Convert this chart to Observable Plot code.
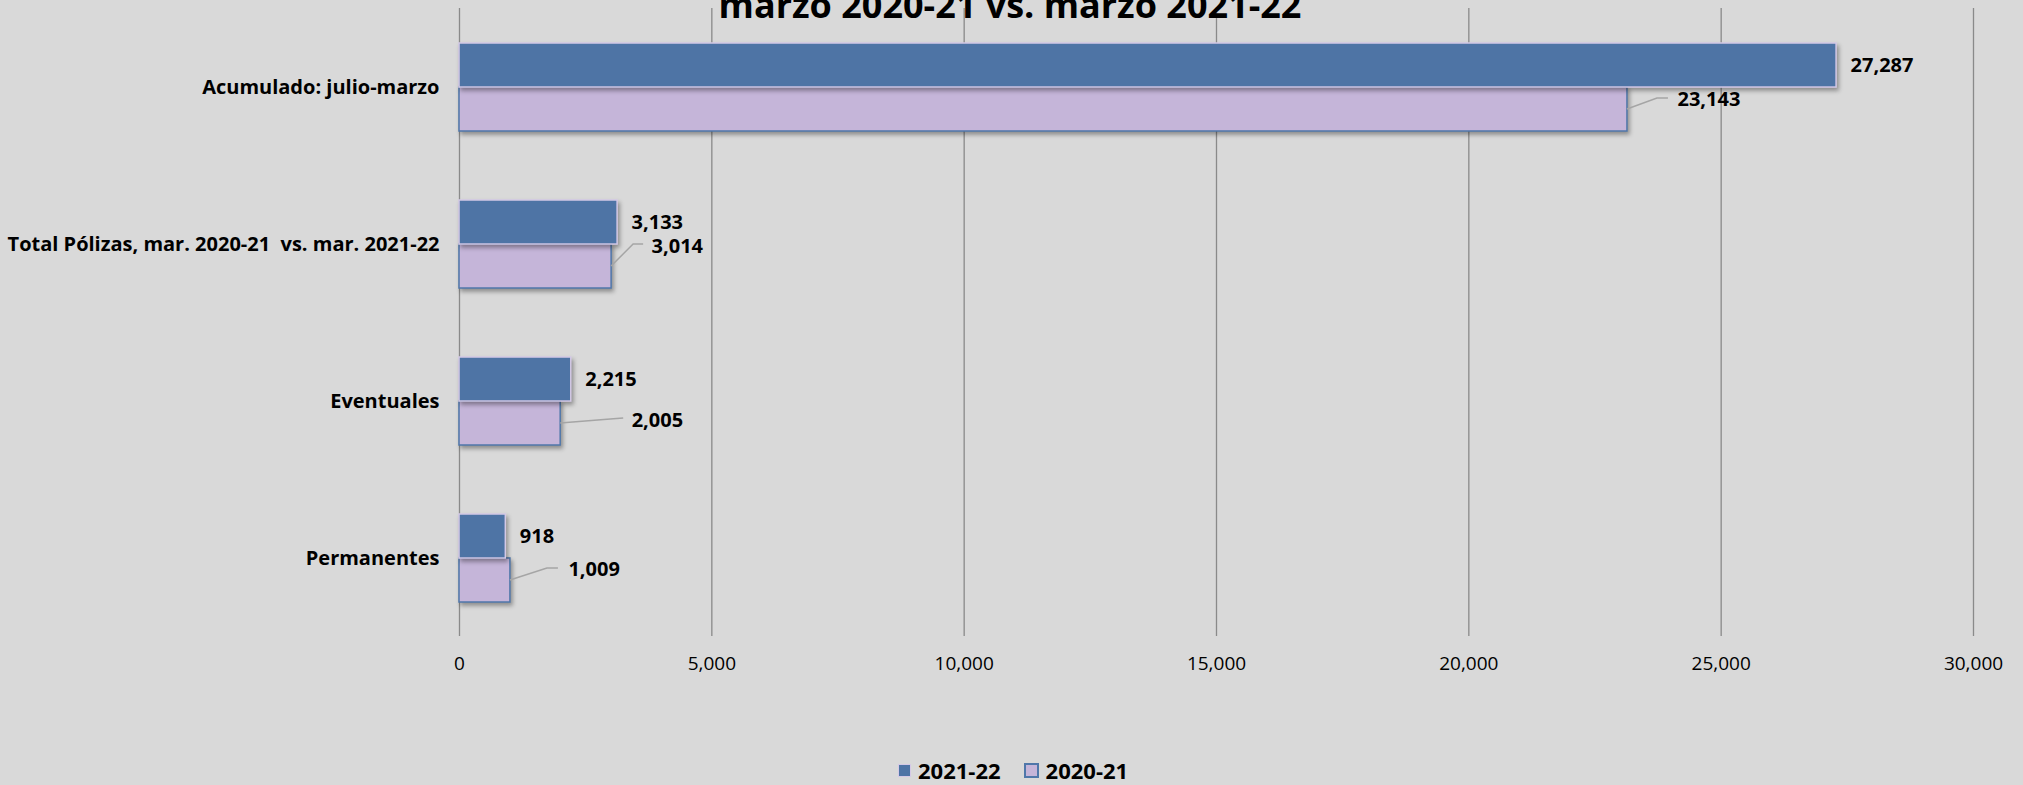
<!DOCTYPE html>
<html>
<head>
<meta charset="utf-8">
<script src="https://cdn.jsdelivr.net/npm/d3@7"></script>
<script src="https://cdn.jsdelivr.net/npm/@observablehq/plot@0.6"></script>
<style>
  html, body { margin: 0; padding: 0; background: #d9d9d9; width: 2023px; height: 785px; overflow: hidden; font-family: "Open Sans", sans-serif; }
  #wrap { position: relative; width: 2023px; height: 785px; }
  #chart { position: absolute; left: 0; top: 0; }
  #title { position: absolute; left: 0; top: -13px; width: 2020px; text-align: center; font-size: 36px; line-height: 36px; font-weight: 700; color: #000; white-space: pre; }
  #legend { position: absolute; left: 898px; top: 755px; height: 30px; display: flex; align-items: center; font-size: 22px; font-weight: 700; color: #000; }
  #legend .item { display: flex; align-items: center; }
  #legend .sw { width: 13px; height: 13px; box-sizing: border-box; margin-right: 7px; }
  #legend .item + .item { margin-left: 23px; }
  svg text { white-space: pre; }
</style>
</head>
<body>
<div id="wrap">
  <div id="chart"></div>
  <div id="title"></div>
  <div id="legend"></div>
</div>
<script>
// ---- data ----
const title = "marzo 2020-21 vs. marzo 2021-22";
const categories = ["Acumulado: julio-marzo", "Total Pólizas, mar. 2020-21  vs. mar. 2021-22", "Eventuales", "Permanentes"];
const series = ["2021-22", "2020-21"];
const values2122 = [27287, 3133, 2215, 918];
const values2021 = [23143, 3014, 2005, 1009];
const xTicks = [0, 5000, 10000, 15000, 20000, 25000, 30000];

// ---- styles / layout ----
const W = 2023, H = 785;
const mTop = 8, mBottom = 149, mLeft = 459, mRight = 50;
const padInner = 0.44, padOuter = 0.22;
const colorNew = "#4e74a5", strokeNew = "#d4c9e6";
const colorOld = "#c5b5d9", strokeOld = "#4f77aa";
const gridColor = "#8a8a8a", leaderColor = "#a5a5a5";
const step = (H - mTop - mBottom) / categories.length;
const bw = step * (1 - padInner);
// label offsets (px) for 2020-21 labels relative to bar end / bar centre
const leaderLayout = [
  {elbow: [30, -11], end: [41, -11], text: [50, -10]},
  {elbow: [22, -22], end: [32, -22], text: [40, -20]},
  {elbow: [50, -4], end: [63, -5], text: [71, -3]},
  {elbow: [37, -12], end: [48, -12], text: [58, -11]}
];

const fmt = d3.format(",");
const rows = categories.map((c, i) => ({cat: c, v22: values2122[i], v21: values2021[i]}));

const oldLabelMarks = rows.map((r, i) => Plot.text([r], {
  x: "v21", y: "cat", text: d => fmt(d.v21),
  dx: leaderLayout[i].text[0], dy: bw / 4 + leaderLayout[i].text[1],
  textAnchor: "start", fontSize: 20, fontWeight: 700, fill: "#000"
}));

const chart = Plot.plot({
  width: W, height: H,
  marginTop: mTop, marginBottom: mBottom, marginLeft: mLeft, marginRight: mRight,
  style: {background: "transparent", fontFamily: "Open Sans, sans-serif", overflow: "visible"},
  x: {domain: [0, 30000], axis: null},
  y: {domain: categories, paddingInner: padInner, paddingOuter: padOuter, axis: null},
  marks: [
    Plot.ruleX(xTicks, {x: d => d, stroke: gridColor, strokeWidth: 1.3}),
    Plot.barX(rows, {x: "v21", y: "cat", insetTop: bw / 2, fill: colorOld, stroke: strokeOld, strokeWidth: 1.5}),
    Plot.barX(rows, {x: "v22", y: "cat", insetBottom: bw / 2, fill: colorNew, stroke: strokeNew, strokeWidth: 1.5}),
    Plot.text(rows, {x: "v22", y: "cat", text: d => fmt(d.v22), dx: 14, dy: -bw / 4, textAnchor: "start", fontSize: 20, fontWeight: 700, fill: "#000"}),
    ...oldLabelMarks,
    Plot.text(xTicks, {x: d => d, text: d => fmt(d), frameAnchor: "bottom", dy: 33, fontSize: 19, fill: "#000"}),
    Plot.text(categories, {y: d => d, text: d => d, frameAnchor: "left", dx: -20, textAnchor: "end", fontSize: 20, fontWeight: 700, fill: "#000"})
  ]
});
document.getElementById("chart").appendChild(chart);

// drop shadows on bars
d3.select(chart).selectAll('g[aria-label="bar"]').style("filter", "drop-shadow(2px 3px 2px rgba(0,0,0,0.35))");

// leader lines for 2020-21 labels, placed through the plot's own scales
const sx = chart.scale("x"), sy = chart.scale("y");
const band = sy.bandwidth ?? bw;
const leaders = d3.select(chart).append("g").attr("fill", "none").attr("stroke", leaderColor).attr("stroke-width", 1.5);
rows.forEach((r, i) => {
  const x0 = sx.apply(r.v21), y0 = sy.apply(r.cat) + band * 0.75;
  const L = leaderLayout[i];
  leaders.append("polyline").attr("points", [
    [x0, y0], [x0 + L.elbow[0], y0 + L.elbow[1]], [x0 + L.end[0], y0 + L.end[1]]
  ].map(p => p.join(",")).join(" "));
});

// title (upper line clipped by the page edge, as in the original)
document.getElementById("title").textContent = title;

// legend
const legendColors = [[colorNew, strokeNew], [colorOld, strokeOld]];
const lg = d3.select("#legend");
series.forEach((s, i) => {
  const it = lg.append("div").attr("class", "item");
  it.append("div").attr("class", "sw")
    .style("background", legendColors[i][0])
    .style("border", i === 0 ? `1px solid ${legendColors[i][1]}` : `2px solid ${legendColors[i][1]}`)
    .style("width", i === 0 ? "13px" : "15px").style("height", i === 0 ? "13px" : "15px");
  it.append("span").text(s);
});
</script>
</body>
</html>
